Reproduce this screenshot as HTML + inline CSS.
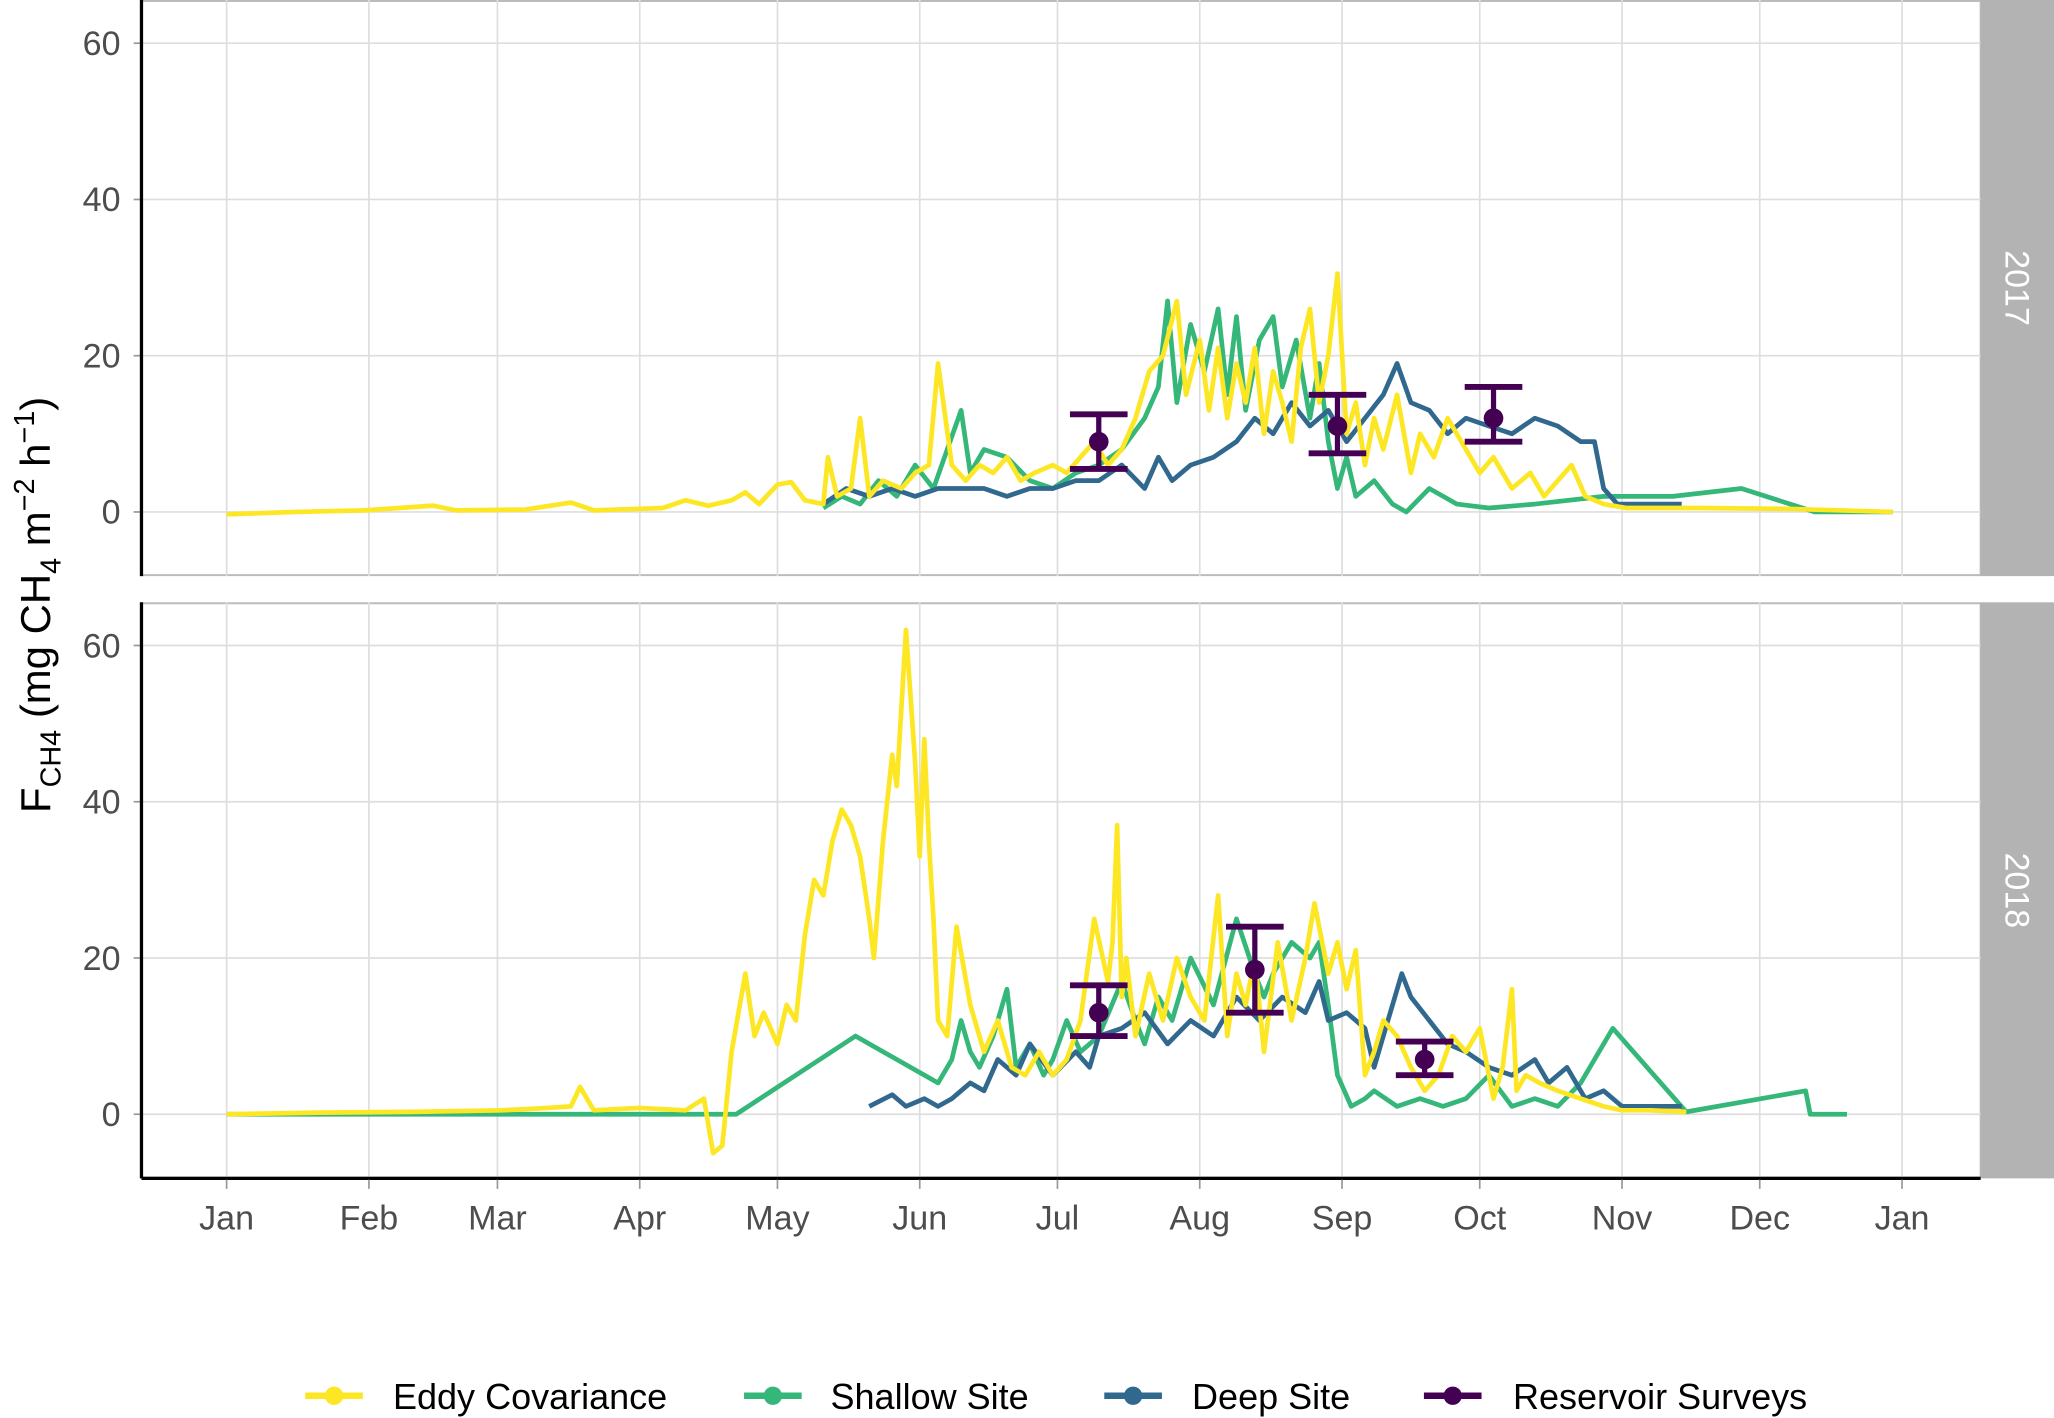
<!DOCTYPE html>
<html><head><meta charset="utf-8"><style>
html,body{margin:0;padding:0;background:#fff}
svg{display:block;font-family:"Liberation Sans",Arial,sans-serif}
</style></head><body>
<svg id="chart" width="2054" height="1418" viewBox="0 0 1568 1083" preserveAspectRatio="none" xmlns="http://www.w3.org/2000/svg">
<g id="panels"></g>
<text transform="translate(38,462) rotate(-90)" text-anchor="middle" font-size="32" fill="#000">F<tspan font-size="22" dy="8">CH4</tspan><tspan dy="-8"> (mg CH</tspan><tspan font-size="22" dy="8">4</tspan><tspan dy="-8"> m</tspan><tspan font-size="22" dy="-12">−2</tspan><tspan dy="12"> h</tspan><tspan font-size="22" dy="-12">−1</tspan><tspan dy="12">)</tspan></text>
<g font-size="27.5" fill="#000">
 <g><line x1="233" y1="1066" x2="277" y2="1066" stroke="#FDE725" stroke-width="5"/><circle cx="255" cy="1066" r="7" fill="#FDE725"/><text x="300" y="1076">Eddy Covariance</text></g>
 <g><line x1="568" y1="1066" x2="612" y2="1066" stroke="#35B779" stroke-width="5"/><circle cx="590" cy="1066" r="7" fill="#35B779"/><text x="634" y="1076">Shallow Site</text></g>
 <g><line x1="843" y1="1066" x2="887" y2="1066" stroke="#31688E" stroke-width="5"/><circle cx="865" cy="1066" r="7" fill="#31688E"/><text x="910" y="1076">Deep Site</text></g>
 <g><line x1="1087" y1="1066" x2="1131" y2="1066" stroke="#440154" stroke-width="5"/><circle cx="1109" cy="1066" r="7" fill="#440154"/><text x="1155" y="1076">Reservoir Surveys</text></g>
</g>
</svg>
<script>
const monthLabels=["Jan","Feb","Mar","Apr","May","Jun","Jul","Aug","Sep","Oct","Nov","Dec","Jan"];
const monthDays=[0,31,59,90,120,151,181,212,243,273,304,334,365];
const yTicks=[0,20,40,60];
const years=["2017","2018"];
// 2017
const ec17Days=[0,15,30,45,50,65,75,80,95,100,105,110,113,116,120,123,126,130,131,133,136,138,140,143,147,150,153,155,158,161,164,167,170,173,176,180,183,186,189,192,195,198,201,204,207,209,212,214,216,218,220,222,224,226,228,230,232,234,236,238,240,242,244,246,248,250,252,255,258,260,263,266,270,273,276,280,284,287,290,293,296,300,305,320,340,363];
const ec17Vals=[-0.3,0,0.2,0.8,0.2,0.3,1.2,0.2,0.5,1.5,0.8,1.5,2.5,1,3.5,3.8,1.5,1,7,2,3,12,2,4,3,5,6,19,6,4,6,5,7,4,5,6,5,7,9,6,8,12,18,20,27,15,22,13,21,12,19,14,21,10,18,14,9,21,26,14,20,30.5,10,14,6,12,8,15,5,10,7,12,8,5,7,3,5,2,4,6,2,1,0.5,0.5,0.4,0];
const sh17Days=[130,134,138,142,146,150,154,157,160,162,165,170,175,180,185,190,195,200,203,205,207,210,213,216,218,220,222,225,228,230,233,236,238,240,242,244,246,250,254,257,262,268,275,285,300,315,330,346,363];
const sh17Vals=[0.5,2,1,4,2,6,3,8,13,5,8,7,4,3,5,6,8,12,16,27,14,24,18,26,15,25,13,22,25,16,22,12,19,9,3,7,2,4,1,0,3,1,0.5,1,2,2,3,0,0];
const dp17Days=[130,135,140,145,150,155,160,165,170,175,180,185,190,195,200,203,206,210,215,220,224,228,232,236,240,244,248,252,255,258,262,266,270,275,280,285,290,295,298,300,303,305,310,317];
const dp17Vals=[1,3,2,3,2,3,3,3,2,3,3,4,4,6,3,7,4,6,7,9,12,10,14,11,13,9,12,15,19,14,13,10,12,11,10,12,11,9,9,3,1,1,1,1];
const sv17Days=[190,242,276];
const sv17Mean=[9,11,12];
const sv17Lo=[5.5,7.5,9];
const sv17Hi=[12.5,15,16];
// 2018
const ec18Days=[0,20,40,60,70,75,77,80,90,100,104,106,108,110,113,115,117,120,122,124,126,128,130,132,134,136,138,140,141,143,145,146,148,150,151,152,153,154,155,157,159,162,165,168,171,174,177,180,183,186,189,192,193,194,195,196,198,201,204,207,210,213,216,218,220,222,224,226,229,232,235,237,238,240,242,244,246,248,250,252,255,258,261,264,267,270,273,276,278,280,281,283,286,290,295,300,304,310,318];
const ec18Vals=[0,0.2,0.3,0.5,0.8,1,3.5,0.5,0.8,0.5,2,-5,-4,8,18,10,13,9,14,12,23,30,28,35,39,37,33,25,20,35,46,42,62,45,33,48,35,25,12,10,24,14,8,12,6,5,8,5,7,12,25,17,22,37,15,20,10,18,12,20,15,12,28,10,18,14,20,8,22,12,20,27,24,18,22,16,21,5,8,12,10,6,3,5,10,8,11,2,6,16,3,5,4,3,2,1,0.5,0.5,0.3];
const sh18Days=[0,40,80,111,137,155,158,160,162,164,167,170,172,175,178,180,183,186,190,195,198,200,203,206,210,215,220,224,226,228,232,236,238,240,242,245,248,250,255,260,265,270,275,280,285,290,295,302,318,344,345,353];
const sh18Vals=[0,0,0,0,10,4,7,12,8,6,10,16,6,9,5,7,12,8,10,17,12,9,15,12,20,14,25,18,15,18,22,20,22,14,5,1,2,3,1,2,1,2,5,1,2,1,4,11,0.3,3,0,0];
const dp18Days=[140,145,148,152,155,158,162,165,168,172,175,180,185,188,190,195,200,205,210,215,220,225,230,235,238,240,244,248,250,252,256,258,262,266,270,275,280,285,288,292,296,300,304,310,317];
const dp18Vals=[1,2.5,1,2,1,2,4,3,7,5,9,5,8,6,10,11,13,9,12,10,15,12,15,13,17,12,13,11,6,10,18,15,12,9,8,6,5,7,4,6,2,3,1,1,1];
const sv18Days=[190,224,261];
const sv18Mean=[13,18.5,7];
const sv18Lo=[10,13,5];
const sv18Hi=[16.5,24,9.3];

const NS="http://www.w3.org/2000/svg";
const X0=108,X1=1512;
const xs=d=>173+d*(1452-173)/365;
const panelTops=[0,460],panelBots=[440,900],zeroY=[391,851],perUnit=(391-33)/60;
const g=document.getElementById('panels');
function el(t,a,p){const e=document.createElementNS(NS,t);for(const k in a)e.setAttribute(k,a[k]);(p||g).appendChild(e);return e;}
const colors={ec:"#FDE725",sh:"#35B779",dp:"#31688E",sv:"#440154"};
function series(pi,days,vals,col,name){
  const ys=v=>zeroY[pi]-v*perUnit;
  const n=Math.min(days.length,vals.length);
  let d="";
  for(let i=0;i<n;i++)d+=(i?"L":"M")+xs(days[i]).toFixed(1)+","+ys(vals[i]).toFixed(1);
  const p=el('path',{d:d,fill:"none",stroke:col,"stroke-width":3.6,"stroke-linejoin":"round"});
  
  
}
function surveys(pi,days,mean,lo,hi,name){
  const ys=v=>zeroY[pi]-v*perUnit;
  for(let i=0;i<days.length;i++){
    const x=xs(days[i]);
    const gg=el('g',{});
    
    
    el('line',{x1:x,x2:x,y1:ys(lo[i]),y2:ys(hi[i]),stroke:colors.sv,"stroke-width":4},gg);
    el('line',{x1:x-22,x2:x+22,y1:ys(lo[i]),y2:ys(lo[i]),stroke:colors.sv,"stroke-width":4.5},gg);
    el('line',{x1:x-22,x2:x+22,y1:ys(hi[i]),y2:ys(hi[i]),stroke:colors.sv,"stroke-width":4.5},gg);
    el('circle',{cx:x,cy:ys(mean[i]),r:7.5,fill:colors.sv},gg);
  }
}
for(let pi=0;pi<2;pi++){
  const top=panelTops[pi],bot=panelBots[pi];
  const pg=el('g',{});
  
  
  el('rect',{x:X0,y:top+0.75,width:X1-X0,height:bot-top-1.5,fill:"#fff",stroke:"#bbb","stroke-width":1.5},pg);
  for(const d of monthDays){const l=el('line',{x1:xs(d),x2:xs(d),y1:top,y2:bot,stroke:"#dedede","stroke-width":1.3},pg);
    }
  for(const v of yTicks){const y=zeroY[pi]-v*perUnit;
    const l=el('line',{x1:X0,x2:X1,y1:y,y2:y,stroke:"#dedede","stroke-width":1.3},pg);
    
    el('line',{x1:X0-6,x2:X0,y1:y,y2:y,stroke:"#999","stroke-width":1.3},pg);
    const t=el('text',{x:92,y:y+9,"text-anchor":"end","font-size":26,fill:"#4D4D4D"},pg);t.textContent=v;
    }
  el('line',{x1:X0,x2:X0,y1:top,y2:bot,stroke:"#000","stroke-width":2.5},pg);
  const st=el('rect',{x:X1,y:top,width:1568-X1,height:bot-top,fill:"#B3B3B3"},pg);
  
  
  const sy=(top+bot)/2;
  const stt=el('text',{x:0,y:0,transform:"translate(1531,"+sy+") rotate(90)","text-anchor":"middle","font-size":26,fill:"#fff"},pg);
  stt.textContent=years[pi];
  
  
}
// bottom x axis
el('line',{x1:X0,x2:X1,y1:900,y2:900,stroke:"#000","stroke-width":2.5});
for(let i=0;i<monthDays.length;i++){
  const x=xs(monthDays[i]);
  el('line',{x1:x,x2:x,y1:901,y2:908,stroke:"#999","stroke-width":1.3});
  const t=el('text',{x:x,y:939,"text-anchor":"middle","font-size":26,fill:"#4D4D4D"});
  t.textContent=monthLabels[i];
  
  
}
series(0,sh17Days,sh17Vals,colors.sh,'shallow-2017-line');
series(0,dp17Days,dp17Vals,colors.dp,'deep-2017-line');
series(0,ec17Days,ec17Vals,colors.ec,'eddy-2017-line');
surveys(0,sv17Days,sv17Mean,sv17Lo,sv17Hi,'survey-2017');
series(1,sh18Days,sh18Vals,colors.sh,'shallow-2018-line');
series(1,dp18Days,dp18Vals,colors.dp,'deep-2018-line');
series(1,ec18Days,ec18Vals,colors.ec,'eddy-2018-line');
surveys(1,sv18Days,sv18Mean,sv18Lo,sv18Hi,'survey-2018');
</script>
</body></html>
